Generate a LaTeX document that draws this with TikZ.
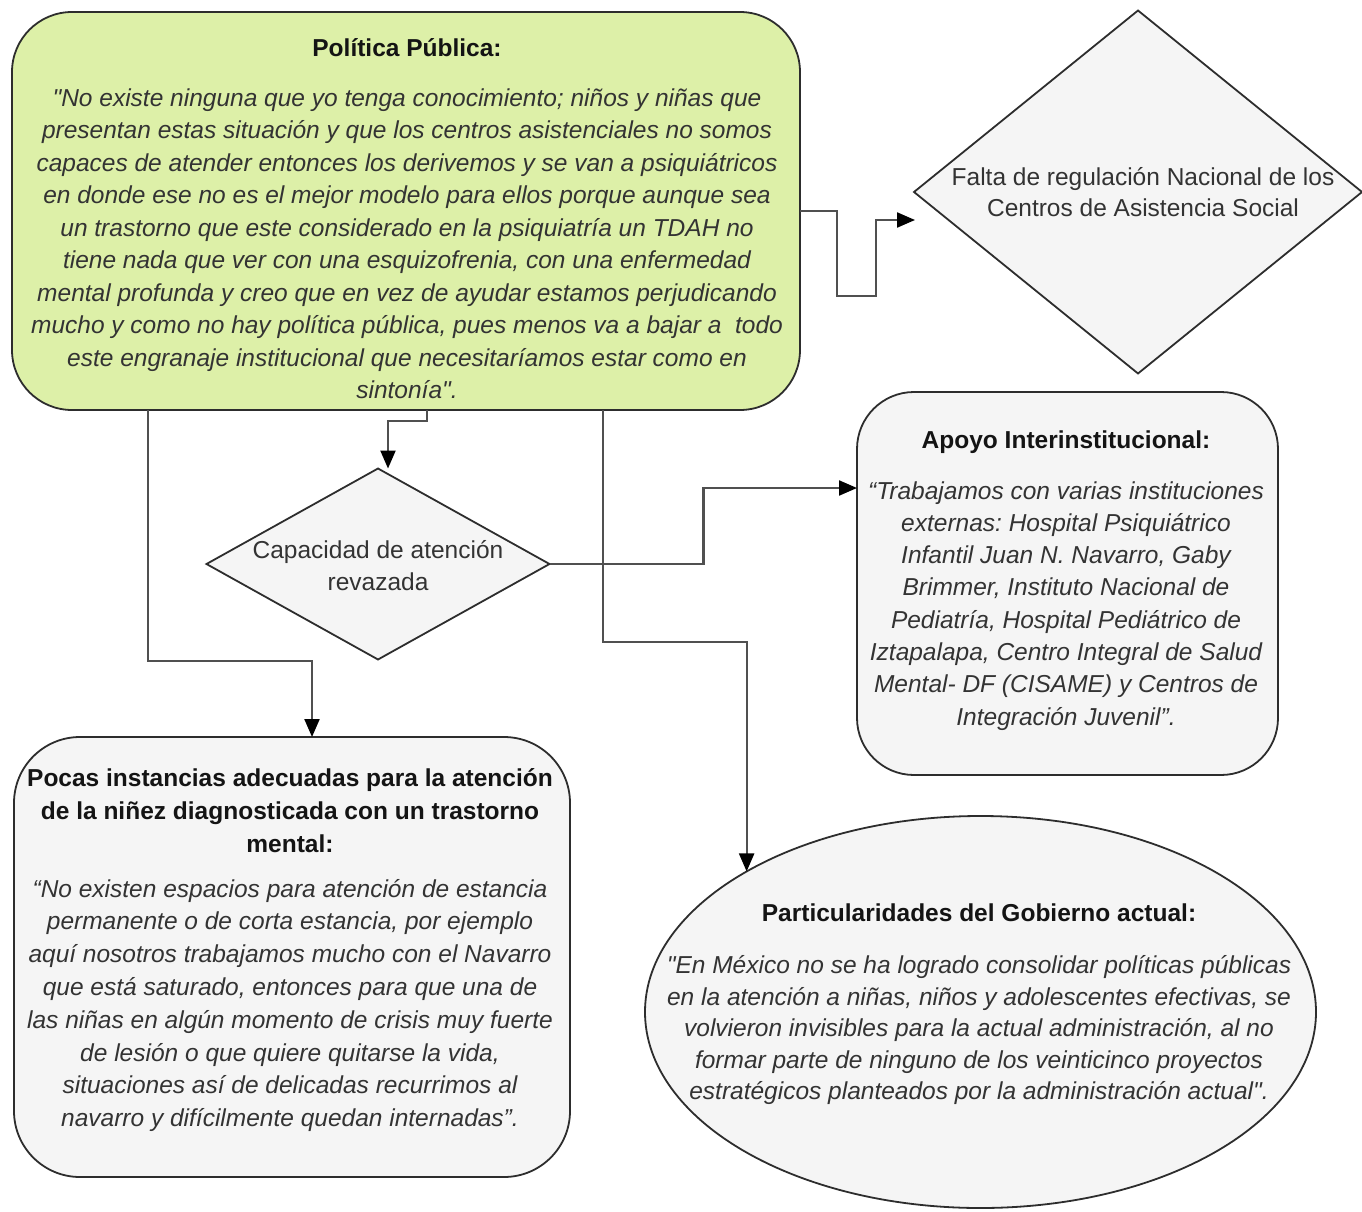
\documentclass[tikz,border=0pt]{standalone}
\usepackage{fontspec}
\setmainfont{Liberation Sans}
\newfontfamily\qfont{Liberation Sans}
\usetikzlibrary{shapes.geometric,arrows.meta}
\definecolor{greenfill}{RGB}{221,240,168}
\definecolor{grayfill}{RGB}{245,245,245}
\definecolor{edgecol}{RGB}{45,45,45}
\definecolor{linkcol}{RGB}{80,80,80}
\definecolor{txtcol}{RGB}{51,51,51}
\definecolor{titlecol}{RGB}{20,20,20}
\tikzset{
  boxshape/.style={draw=edgecol, line width=1.8pt, inner sep=0pt, outer sep=0pt},
  roundbox/.style={boxshape, rectangle, fill=grayfill},
  greenbox/.style={boxshape, rectangle, fill=greenfill},
  decision/.style={boxshape, diamond, fill=grayfill},
  oval/.style={boxshape, ellipse, fill=grayfill},
  link/.style={draw=linkcol, line width=2.2pt, -{Triangle[length=18pt,width=15pt,color=black]}},
  txtnode/.style={inner sep=0pt, anchor=north, align=center, text=txtcol},
}
\newcommand{\ttl}[1]{\textup{\textbf{\textcolor{titlecol}{#1}}}}
\newcommand{\sq}{{\qfont"}}
\frenchspacing
\begin{document}
\begin{tikzpicture}[x=1pt,y=-1pt]
\useasboundingbox (0,0) rectangle (1362,1212);

% shapes
\node[greenbox, rounded corners=60pt, minimum width=788pt, minimum height=398pt] (pp) at (406,211) {};
\node[decision, minimum width=448pt, minimum height=363pt] (falta) at (1138,192) {};
\node[decision, minimum width=343pt, minimum height=191pt] (cap) at (378,564) {};
\node[roundbox, rounded corners=57pt, minimum width=421pt, minimum height=383pt] (apoyo) at (1067.5,583.5) {};
\node[roundbox, rounded corners=66pt, minimum width=556pt, minimum height=440pt] (pocas) at (292,957) {};
\node[oval, minimum width=671pt, minimum height=392pt] (ell) at (980.5,1012) {};
\coordinate (ftip) at (915,220);

% texts
\node[txtnode, font=\fontsize{24.5}{32.5}\selectfont\itshape\frenchspacing] (pptxt) at (407,33.25) {%
\strut\ttl{Política Pública:}\\[17.5pt]
\sq No existe ninguna que yo tenga conocimiento; niños y niñas que\\
presentan estas situación y que los centros asistenciales no somos\\
capaces de atender entonces los derivemos y se van a psiquiátricos\\
en donde ese no es el mejor modelo para ellos porque aunque sea\\
un trastorno que este considerado en la psiquiatría un TDAH no\\
tiene nada que ver con una esquizofrenia, con una enfermedad\\
mental profunda y creo que en vez de ayudar estamos perjudicando\\
mucho y como no hay política pública, pues menos va a bajar a\ \ todo\\
este engranaje institucional que necesitaríamos estar como en\\
sintonía\sq.};

\node[txtnode, font=\fontsize{24.5}{31}\selectfont\frenchspacing] (faltatxt) at (1143,163.25) {%
\strut Falta de regulación Nacional de los\\
Centros de Asistencia Social};

\node[txtnode, font=\fontsize{24.5}{32}\selectfont\frenchspacing] (captxt) at (378,536.25) {%
\strut Capacidad de atención\\
revazada};

\node[txtnode, font=\fontsize{24.5}{32.3}\selectfont\itshape\frenchspacing] (apoyotxt) at (1066,425.25) {%
\strut\ttl{Apoyo Interinstitucional:}\\[18.7pt]
“Trabajamos con varias instituciones\\
externas: Hospital Psiquiátrico\\
Infantil Juan N. Navarro, Gaby\\
Brimmer, Instituto Nacional de\\
Pediatría, Hospital Pediátrico de\\
Iztapalapa, Centro Integral de Salud\\
Mental- DF (CISAME) y Centros de\\
Integración Juvenil”.};

\node[txtnode, font=\fontsize{24.5}{32.8}\selectfont\itshape\frenchspacing] (pocastxt) at (290,763.25) {%
\strut\ttl{Pocas instancias adecuadas para la atención}\\
\ttl{de la niñez diagnosticada con un trastorno}\\
\ttl{mental:}\\[12.2pt]
“No existen espacios para atención de estancia\\
permanente o de corta estancia, por ejemplo\\
aquí nosotros trabajamos mucho con el Navarro\\
que está saturado, entonces para que una de\\
las niñas en algún momento de crisis muy fuerte\\
de lesión o que quiere quitarse la vida,\\
situaciones así de delicadas recurrimos al\\
navarro y difícilmente quedan internadas”.};

\node[txtnode, font=\fontsize{24.5}{31.6}\selectfont\itshape\frenchspacing] (elltxt) at (979,899.25) {%
\strut\ttl{Particularidades del Gobierno actual:}\\[20.4pt]
\sq En México no se ha logrado consolidar políticas públicas\\
en la atención a niñas, niños y adolescentes efectivas, se\\
volvieron invisibles para la actual administración, al no\\
formar parte de ninguno de los veinticinco proyectos\\
estratégicos planteados por la administración actual\sq.};

% connectors
\draw[link] (pp.east) -- ++(37,0) -- ++(0,85) -- ++(39,0) |- (ftip);
\draw[link] ([xshift=21pt]pp.south) -- ++(0,11) -| ([xshift=10pt]cap.north);
\draw[link] ([xshift=-258pt]pp.south) -- ++(0,251) -| ([xshift=20pt]pocas.north);
\draw[link] ([xshift=197pt]pp.south) -- ++(0,232) -| (ell.149.6);
\draw[link] (cap.east) -- ++(154,0) |- ([yshift=95.5pt]apoyo.west);
\end{tikzpicture}
\end{document}
